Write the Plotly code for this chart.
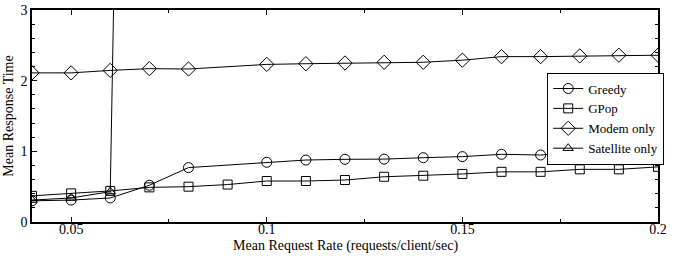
import plotly.graph_objects as go

x_all = [0.04, 0.05, 0.06, 0.07, 0.08, 0.09, 0.10, 0.11, 0.12, 0.13, 0.14, 0.15, 0.16, 0.17, 0.18, 0.19, 0.20]
x_skip = [0.04, 0.05, 0.06, 0.07, 0.08, 0.10, 0.11, 0.12, 0.13, 0.14, 0.15, 0.16, 0.17, 0.18, 0.19, 0.20]

greedy = [0.30, 0.31, 0.34, 0.52, 0.77, 0.845, 0.877, 0.887, 0.89, 0.91, 0.925, 0.958, 0.948, 0.986, 0.995, 1.033]
gpop = [0.37, 0.405, 0.44, 0.49, 0.50, 0.53, 0.58, 0.58, 0.594, 0.64, 0.655, 0.68, 0.71, 0.71, 0.745, 0.745, 0.78]
modem = [2.11, 2.11, 2.145, 2.17, 2.165, 2.23, 2.24, 2.25, 2.26, 2.26, 2.29, 2.34, 2.34, 2.35, 2.36, 2.36]
sat_x = [0.04, 0.05, 0.06, 0.07]
satellite = [0.31, 0.34, 0.43, 31.0]

x_ticks = [0.05, 0.1, 0.15, 0.2]
x_labels = ["0.05", "0.1", "0.15", "0.2"]
y_ticks = [0, 1, 2, 3]
y_labels = ["0", "1", "2", "3"]
x_title = "Mean Request Rate (requests/client/sec)"
y_title = "Mean Response Time"

FONT = "Liberation Serif"
line = dict(color="black", width=1)

fig = go.Figure()
fig.add_trace(go.Scatter(x=x_skip, y=greedy, name="Greedy", mode="lines+markers",
                         line=line, marker=dict(symbol="circle-open", size=10, color="black", line=dict(width=1))))
fig.add_trace(go.Scatter(x=x_all, y=gpop, name="GPop", mode="lines+markers",
                         line=line, marker=dict(symbol="square-open", size=9, color="black", line=dict(width=1))))
fig.add_trace(go.Scatter(x=x_skip, y=modem, name="Modem only", mode="lines+markers",
                         line=line, marker=dict(symbol="diamond-open", size=11, color="black", line=dict(width=1))))
fig.add_trace(go.Scatter(x=sat_x, y=satellite, name="Satellite only", mode="lines+markers",
                         line=line, marker=dict(symbol="triangle-up-open", size=9, color="black", line=dict(width=1))))

fig.update_layout(
    width=673, height=257,
    margin=dict(l=32, r=9, t=10, b=35),
    paper_bgcolor="white", plot_bgcolor="white",
    font=dict(family=FONT, size=14, color="black"),
    legend=dict(x=0.823, y=0.705, xanchor="left", yanchor="top",
                bordercolor="black", borderwidth=1, bgcolor="white",
                font=dict(family=FONT, size=13), tracegroupgap=0,
                itemwidth=30),
    annotations=[dict(text=x_title, xref="paper", yref="paper", x=0.5, y=-0.068,
                      xanchor="center", yanchor="top", showarrow=False,
                      font=dict(family=FONT, size=14))],
)
fig.update_xaxes(
    range=[0.04, 0.2], tickvals=x_ticks, ticktext=x_labels,
    showline=True, linecolor="black", linewidth=1.5, mirror="ticks",
    ticks="inside", ticklen=5, tickcolor="black",
    minor=dict(ticks="inside", ticklen=3, tickvals=[0.075, 0.125, 0.175], tickcolor="black"),
    showgrid=False, zeroline=False, automargin=False,
    tickfont=dict(family=FONT, size=14), ticklabelstandoff=-7,
)
fig.update_yaxes(
    range=[0, 3], tickvals=y_ticks, ticktext=y_labels,
    showline=True, linecolor="black", linewidth=1.5, mirror="ticks",
    ticks="inside", ticklen=5, tickcolor="black",
    minor=dict(ticks="inside", ticklen=3, dtick=0.2, tick0=0, tickcolor="black"),
    showgrid=False, zeroline=False, automargin=False,
    title=dict(text=y_title, font=dict(family=FONT, size=14), standoff=4),
    tickfont=dict(family=FONT, size=14),
)

fig.write_html("out.html", config={"displayModeBar": False},
               post_script="document.body.style.margin='0';")
